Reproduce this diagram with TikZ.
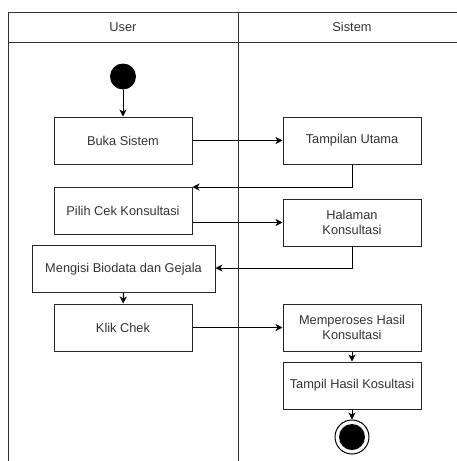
\documentclass[tikz,border=0pt]{standalone}
\usepackage{fontspec}
\setmainfont{Liberation Sans}
\usetikzlibrary{arrows.meta}
\begin{document}
\begin{tikzpicture}[x=1pt,y=-1pt,
  lane/.style={draw=black!80,line width=1pt},
  act/.style={draw=black!85,line width=1pt,minimum width=138pt,minimum height=47pt,align=center,inner sep=1pt,font=\fontsize{12.8}{15}\selectfont,text=black!80},
  flow/.style={draw=black,line width=1pt,-{Stealth[length=7pt,width=7pt,inset=2pt]}},
  hdr/.style={font=\fontsize{12.8}{15}\selectfont,text=black!80}]
\useasboundingbox (0,0) rectangle (457,461);
\clip (0,0) rectangle (457,461);
% lanes
\draw[lane] (8,475) -- (8,12) -- (470,12);
\draw[lane] (8,42) -- (470,42);
\draw[lane] (238,12) -- (238,475);
\node[hdr] (hu) at (123,27) {User};
\node[hdr] (hs) at (352,27) {Sistem};
% nodes
\node[circle,fill=black,minimum size=26pt,inner sep=0pt] (start) at (123,76.5) {};
\node[act] (buka) at (123,140.5) {Buka Sistem};
\node[act] (tamp) at (352,140.5) {Tampilan Utama};
\node[act] (pilih) at (123,211) {Pilih Cek Konsultasi};
\node[act] (hal) at (352,222.5) {Halaman\\Konsultasi};
\node[act,minimum width=183pt] (isi) at (123.5,269) {Mengisi Biodata dan Gejala};
\node[act] (klik) at (123,327.5) {Klik Chek};
\node[act] (proses) at (352,327.5) {Memperoses Hasil\\Konsultasi};
\node[act] (hasil) at (352,385.5) {Tampil Hasil Kosultasi};
\node[circle,draw=black,line width=1pt,minimum size=34pt,inner sep=0pt] (end) at (352,437) {};
\node[circle,fill=black,minimum size=26pt,inner sep=0pt] (endin) at (352,437) {};
\coordinate (c1) at (352,187);
\coordinate (c2) at (352,268);
% flows
\draw[flow] (start) -- (buka);
\draw[flow] (buka) -- (tamp);
\draw[flow] (tamp.south) -- (c1) -- (c1 -| pilih.east);
\draw[flow] (pilih.east |- hal) -- (hal.west);
\draw[flow] (hal.south) -- (c2) -- (c2 -| isi.east);
\draw[flow] (isi) -- (klik);
\draw[flow] (klik) -- (proses);
\draw[flow] (proses) -- (hasil);
\draw[flow] (hasil) -- (end);
\end{tikzpicture}
\end{document}
